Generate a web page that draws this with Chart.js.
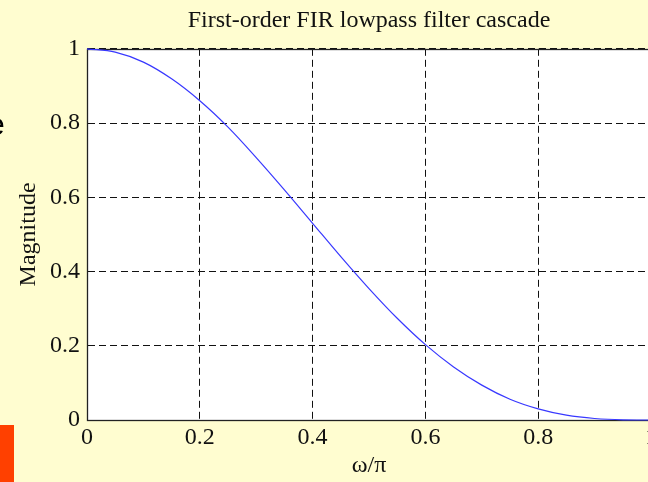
<!DOCTYPE html>
<html>
<head>
<meta charset="utf-8">
<script src="https://cdn.jsdelivr.net/npm/chart.js@4/dist/chart.umd.min.js"></script>
<style>
  html, body { margin: 0; padding: 0; width: 648px; height: 482px; overflow: hidden; background: #FFFDD0; position: relative; }
  #wrap { position: absolute; left: 0; top: 0; width: 660px; height: 482px; }
  #slideE { position: absolute; left: -13px; top: 106px; font: 32px "Liberation Sans", Arial, sans-serif; line-height: 36px; color: #000; }
  #redBox { position: absolute; left: 0; top: 425px; width: 14px; height: 57px; background: #FF4000; }
</style>
</head>
<body>
<div id="wrap"><canvas id="c" width="660" height="482"></canvas></div>
<div id="slideE">e</div>
<div id="redBox"></div>
<script>
// Normalized frequency (ω/π) and magnitude
const freq = [0, 0.05, 0.1, 0.15, 0.2, 0.25, 0.3, 0.35, 0.4, 0.45, 0.5, 0.55, 0.6, 0.65, 0.7, 0.75, 0.8, 0.85, 0.9, 0.95, 1.0];
const magnitude = [1.0, 0.991, 0.964, 0.919, 0.860, 0.789, 0.707, 0.620, 0.530, 0.440, 0.354, 0.274, 0.203, 0.143, 0.094, 0.056, 0.030, 0.013, 0.004, 0.0005, 0];
const xTicks = [0, 0.2, 0.4, 0.6, 0.8, 1];
const yTicks = [0, 0.2, 0.4, 0.6, 0.8, 1];
const titleText = 'First-order FIR lowpass filter cascade';
const xLabel = 'ω/π';
const yLabel = 'Magnitude';

const serif = '"Liberation Serif", "Times New Roman", serif';

const bgPlugin = {
  id: 'bg',
  beforeDraw(chart) {
    const {ctx, chartArea: a} = chart;
    ctx.save();
    ctx.fillStyle = '#FFFDD0';
    ctx.fillRect(0, 0, chart.width, chart.height);
    ctx.fillStyle = '#FFFFFF';
    ctx.fillRect(a.left, a.top, a.right - a.left, a.bottom - a.top);
    ctx.restore();
  },
  beforeDatasetsDraw(chart) {
    const {ctx, chartArea: a} = chart;
    ctx.save();
    ctx.strokeStyle = '#222';
    ctx.lineWidth = 1.3;
    ctx.setLineDash([]);
    ctx.strokeRect(Math.round(a.left) + 0.5, Math.round(a.top) + 0.5, Math.round(a.right - a.left), Math.round(a.bottom - a.top));
    ctx.restore();
  }
};

new Chart(document.getElementById('c'), {
  type: 'line',
  data: {
    datasets: [{
      data: freq.map((f, i) => ({x: f, y: magnitude[i]})),
      borderColor: '#3838ff',
      borderWidth: 1.2,
      pointRadius: 0,
      fill: false,
      cubicInterpolationMode: 'monotone',
      clip: false
    }]
  },
  options: {
    responsive: false,
    animation: false,
    layout: { padding: { left: 0, right: 9, top: 0, bottom: 1 } },
    plugins: {
      legend: { display: false },
      tooltip: { enabled: false },
      title: {
        display: true,
        fullSize: false,
        text: titleText,
        color: '#111',
        font: { family: serif, size: 24, weight: 'normal' },
        padding: { top: 6, bottom: 14 }
      }
    },
    scales: {
      x: {
        type: 'linear',
        min: 0, max: 1,
        afterBuildTicks(scale) { scale.ticks = xTicks.map(v => ({value: v})); },
        afterFit(scale) { scale.height = 61; },
        ticks: {
          color: '#111',
          font: { family: serif, size: 24 },
          padding: 3,
          maxRotation: 0,
          autoSkip: false,
          callback: v => String(v)
        },
        grid: { color: '#111', lineWidth: 1, drawTicks: false },
        border: { display: true, color: '#222', width: 1, dash: [7, 4] },
        title: { display: true, text: xLabel, color: '#111', font: { family: serif, size: 24 }, padding: { top: 0, bottom: 1 } }
      },
      y: {
        type: 'linear',
        min: 0, max: 1,
        afterBuildTicks(scale) { scale.ticks = yTicks.map(v => ({value: v})); },
        afterFit(scale) { scale.width = 87; },
        ticks: {
          color: '#111',
          font: { family: serif, size: 24 },
          padding: 7,
          autoSkip: false,
          callback: v => String(v)
        },
        grid: { color: '#111', lineWidth: 1, drawTicks: false },
        border: { display: true, color: '#222', width: 1, dash: [7, 4] },
        title: { display: true, text: yLabel, color: '#111', font: { family: serif, size: 24 }, padding: { top: 14, bottom: 0 } }
      }
    }
  },
  plugins: [bgPlugin]
});
</script>
</body>
</html>
